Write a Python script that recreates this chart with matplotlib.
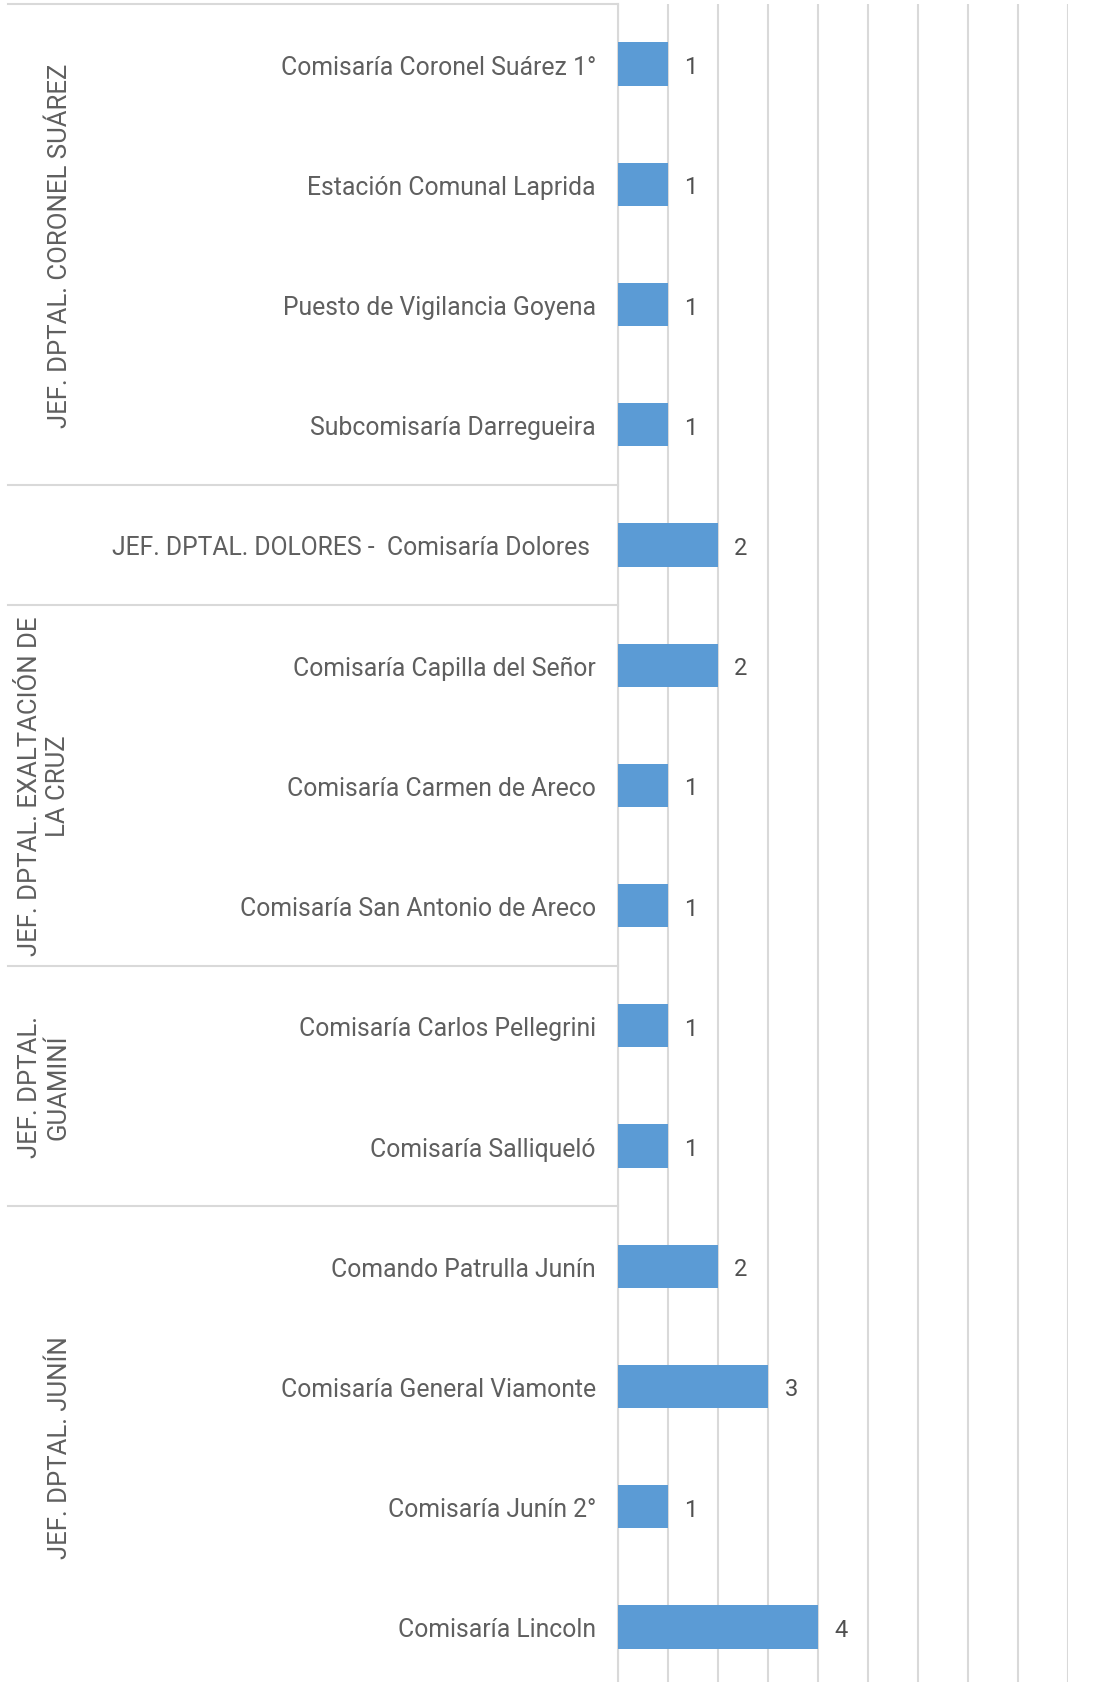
import numpy as np
import matplotlib.pyplot as plt
from matplotlib.transforms import blended_transform_factory

plt.rcParams['font.family'] = ['Roboto', 'DejaVu Sans']

# datos
etiquetas = [
    "Comisaría Coronel Suárez 1°",
    "Estación Comunal Laprida",
    "Puesto de Vigilancia Goyena",
    "Subcomisaría Darregueira",
    "JEF. DPTAL. DOLORES -  Comisaría Dolores ",
    "Comisaría Capilla del Señor",
    "Comisaría Carmen de Areco",
    "Comisaría San Antonio de Areco",
    "Comisaría Carlos Pellegrini",
    "Comisaría Salliqueló",
    "Comando Patrulla Junín",
    "Comisaría General Viamonte",
    "Comisaría Junín 2°",
    "Comisaría Lincoln",
]
valores = [1, 1, 1, 1, 2, 2, 1, 1, 1, 1, 2, 3, 1, 4]
grupos = ["JEF. DPTAL. CORONEL SUÁREZ", "", "JEF. DPTAL. EXALTACIÓN DE\nLA CRUZ",
          "JEF. DPTAL.\nGUAMINÍ", "JEF. DPTAL. JUNÍN"]
tam_grupos = [4, 1, 3, 2, 4]

W, H = 1109, 1683
fig = plt.figure(figsize=(W / 100, H / 100), dpi=100)
fig.patch.set_facecolor('white')

top_px, bot_px = 5, 1688
ax = fig.add_axes([618 / W, 1 - bot_px / H, 450 / W, (bot_px - top_px) / H])

gris_texto = '#5F5F5F'
gris_linea = '#D9D9D9'

y = np.arange(len(etiquetas))
ax.barh(y, valores, height=0.36, color='#5B9BD5', zorder=3)
for yi, v in zip(y, valores):
    ax.annotate(str(v), (v, yi), xytext=(23, 0), textcoords='offset pixels',
                ha='center', va='center_baseline', fontsize=17, color='#505050')

ax.set_xlim(0, 9)
ax.set_ylim(len(etiquetas) - 0.5, -0.5)
ax.set_xticks(range(10))
ax.xaxis.grid(True, color=gris_linea, lw=1.5, zorder=0)
ax.tick_params(axis='x', length=0, labelbottom=False)
ax.set_yticks(y)
ax.set_yticklabels(etiquetas, fontsize=17.8, color=gris_texto, va='center_baseline')
ax.tick_params(axis='y', length=0, pad=16)
for s in ['top', 'right', 'bottom']:
    ax.spines[s].set_visible(False)
ax.spines['left'].set_color(gris_linea)
ax.spines['left'].set_linewidth(1.5)

# separadores y etiquetas de grupo
tr = blended_transform_factory(fig.transFigure, ax.transData)
inicio = -0.5
for nombre, n in zip(grupos, tam_grupos):
    ax.plot([8 / W, 618 / W], [inicio, inicio], color=gris_linea, lw=1.5,
            transform=tr, clip_on=False)
    if nombre:
        xc = 44 / W if '\n' in nombre else 60 / W
        ax.text(xc, inicio + n / 2, nombre, rotation=90, ha='center', va='center',
                multialignment='center', fontsize=18.5, color=gris_texto,
                transform=tr, linespacing=1.25)
    inicio += n

fig.savefig('out.png', dpi=100)
